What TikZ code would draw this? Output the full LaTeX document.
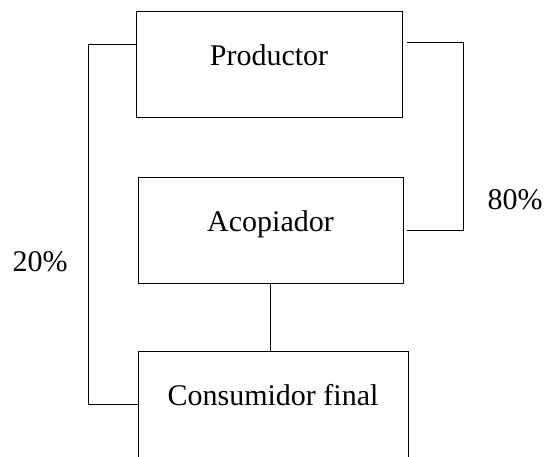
\documentclass[tikz,border=0pt]{standalone}
\usepackage{fontspec}
\setmainfont{Liberation Serif}
\usetikzlibrary{positioning}

\begin{document}
\begin{tikzpicture}[
    x=1pt, y=1pt,
    block/.style={draw, line width=0.9pt, rectangle, minimum height=106pt, minimum width=266pt,
        text height=0.7em, text depth=0.44em, align=center, font=\fontsize{30}{36}\selectfont},
    share/.style={font=\fontsize{30}{36}\selectfont},
    link/.style={draw, line width=0.9pt}
]
\useasboundingbox (0,0) rectangle (546,456);

% --- 1. BLOCKS ---
\node [block] (prod) at (269, 392) {Productor};
\node [block, minimum width=265pt] (acop) at (270.5, 226) {Acopiador};
\node [block, minimum width=270pt] (cons) at (273, 52) {Consumidor final};

% --- 2. FLOWS ---
% Productor -> Consumidor final (direct)
\draw[link] ([yshift=20pt]prod.west) -- ++(-47,0) |- (cons.west);
\node[share] (direct) at (40, 194) {20\%};

% Productor -> Acopiador
\draw[link] ([shift={(5pt,22pt)}]prod.east) -- ++(56,0) |- ([xshift=4pt]acop.east);
\node[share] (viaacop) at (515, 256) {80\%};

% Acopiador -> Consumidor final
\draw[link] (acop.south) -- (acop.south |- cons.north);

\end{tikzpicture}
\end{document}
